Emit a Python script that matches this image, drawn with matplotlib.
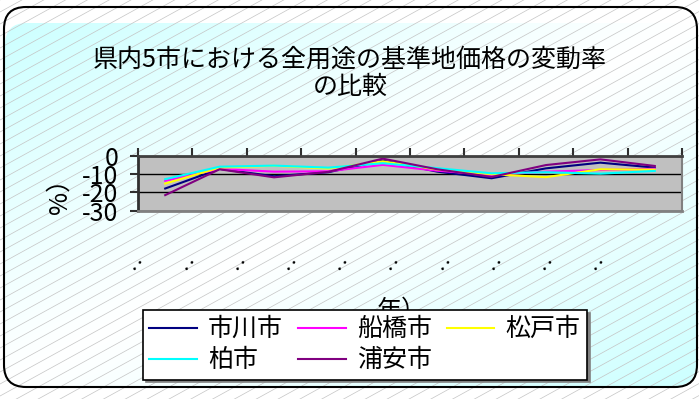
import numpy as np
import matplotlib
matplotlib.use('Agg')
import matplotlib.pyplot as plt
from matplotlib.patches import FancyBboxPatch

plt.rcParams['font.family'] = ['Noto Sans CJK JP', 'DejaVu Sans']

title = "県内5市における全用途の基準地価格の変動率\nの比較"
ylabel = "%）"
xlabel = "年）"
categories = ["‥"] * 10
cities = ["市川市", "船橋市", "松戸市", "柏市", "浦安市"]
ichikawa = [-17.9, -7.2, -11.2, -9.0, -2.7, -8.7, -12.3, -6.9, -3.8, -6.5]
funabashi = [-13.7, -7.2, -8.7, -8.5, -5.0, -8.2, -10.5, -8.7, -7.8, -7.1]
matsudo = [-15.2, -6.5, -5.5, -7.0, -3.1, -7.5, -10.1, -11.7, -7.4, -7.6]
kashiwa = [-12.8, -6.0, -5.4, -6.5, -4.1, -6.8, -9.6, -9.0, -9.8, -8.3]
urayasu = [-21.5, -7.4, -11.8, -8.8, -1.6, -7.4, -11.6, -5.1, -2.0, -5.6]
series = [ichikawa, funabashi, matsudo, kashiwa, urayasu]
colors = ["#000080", "#ff00ff", "#ffff00", "#00ffff", "#800080"]
yticks = [0, -10, -20, -30]

W, H = 699, 399
fig = plt.figure(figsize=(W / 100, H / 100), dpi=100)

# background
bg = fig.add_axes([0, 0, 1, 1], zorder=-5)
bg.set_xlim(0, W)
bg.set_ylim(H, 0)
bg.axis('off')
outer = FancyBboxPatch((4, 7), 693, 380, boxstyle="round,pad=0,rounding_size=22",
                       fc='white', ec='none', zorder=0)
bg.add_patch(outer)
inner = FancyBboxPatch((5, 23), 691, 363, boxstyle="round,pad=0,rounding_size=22",
                       fc='none', ec='none')
bg.add_patch(inner)
gy, gx = np.mgrid[0:1:200j, 0:1:350j]
t = (gx + gy) / 2
a = np.clip(np.abs(t - 0.5) * 2, 0, 1) ** 1.1
c0 = np.array([1.0, 1.0, 1.0])
c1 = np.array([0.8, 1.0, 1.0])
img = c0 + (c1 - c0) * a[..., None]
im = bg.imshow(img, extent=(5, 696, 386, 23), aspect='auto', zorder=1, interpolation='bilinear')
im.set_clip_path(inner)
slope = 0.55
for c in np.arange(0, H + slope * W + 12, 12):
    bg.plot([0, W], [c, c - slope * W], color='#c4c4c4', lw=0.5, zorder=2)
border = FancyBboxPatch((4, 7), 693, 380, boxstyle="round,pad=0,rounding_size=22",
                        fc='none', ec='black', lw=1.5, zorder=3)
bg.add_patch(border)
bg.set_xlim(0, W)
bg.set_ylim(H, 0)

# plot area
ax = fig.add_axes([138 / W, (H - 210.7) / H, 544 / W, 55 / H], zorder=1)
ax.set_facecolor('#c0c0c0')
x = np.arange(len(categories)) + 0.5
lines = []
for s, col, name in zip(series, colors, cities):
    ln, = ax.plot(x, s, color=col, lw=1.5, label=name)
    lines.append(ln)
ax.set_xlim(0, len(categories))
ax.set_ylim(-30, 0)
ax.set_yticks(yticks)
ax.set_yticklabels([str(v) for v in yticks])
ax.grid(axis='y', color='black', lw=1)
ax.set_axisbelow(True)
ax.xaxis.tick_top()
ax.set_xticks(range(len(categories) + 1))
ax.set_xticklabels([])
ax.tick_params(axis='x', top=True, bottom=False, direction='out', length=6, width=1.5, color='#303030')
ax.tick_params(axis='y', direction='out', length=6, width=1.5, color='#303030', pad=8, labelsize=18)
ax.spines['top'].set_color('#404040'); ax.spines['top'].set_linewidth(2)
ax.spines['left'].set_color('#303030'); ax.spines['left'].set_linewidth(2)
ax.spines['bottom'].set_color('#808080'); ax.spines['bottom'].set_linewidth(2)
ax.spines['right'].set_color('#808080'); ax.spines['right'].set_linewidth(1.5)

fig.text(350 / W, 1 - 73 / H, title, ha='center', va='center', fontsize=18, linespacing=1.05)
fig.text(60 / W, 1 - 190 / H, ylabel, rotation=90, ha='center', va='center', fontsize=18)
for i, lab in enumerate(categories):
    fig.text((138 + i * 51.2) / W, 1 - 265 / H, lab, rotation=50, ha='center', va='center',
             fontsize=12, fontweight='bold')
fig.text(402 / W, 1 - 311 / H, xlabel, ha='center', va='center', fontsize=18, zorder=5)

order = [0, 3, 1, 4, 2]
leg = fig.legend([lines[i] for i in order], [cities[i] for i in order], ncol=3,
                 loc='upper left', bbox_to_anchor=(143 / W, 1 - 310 / H),
                 fontsize=18, frameon=True, fancybox=False, edgecolor='black',
                 facecolor='white', framealpha=1, handlelength=1.9, handletextpad=0.45,
                 columnspacing=0.6, labelspacing=0.2, borderpad=0.25, borderaxespad=0,
                 shadow={'color': '#808080', 'alpha': 1})
leg.set_zorder(10)
leg.get_frame().set_linewidth(1.2)

fig.savefig('out.png', dpi=100)
